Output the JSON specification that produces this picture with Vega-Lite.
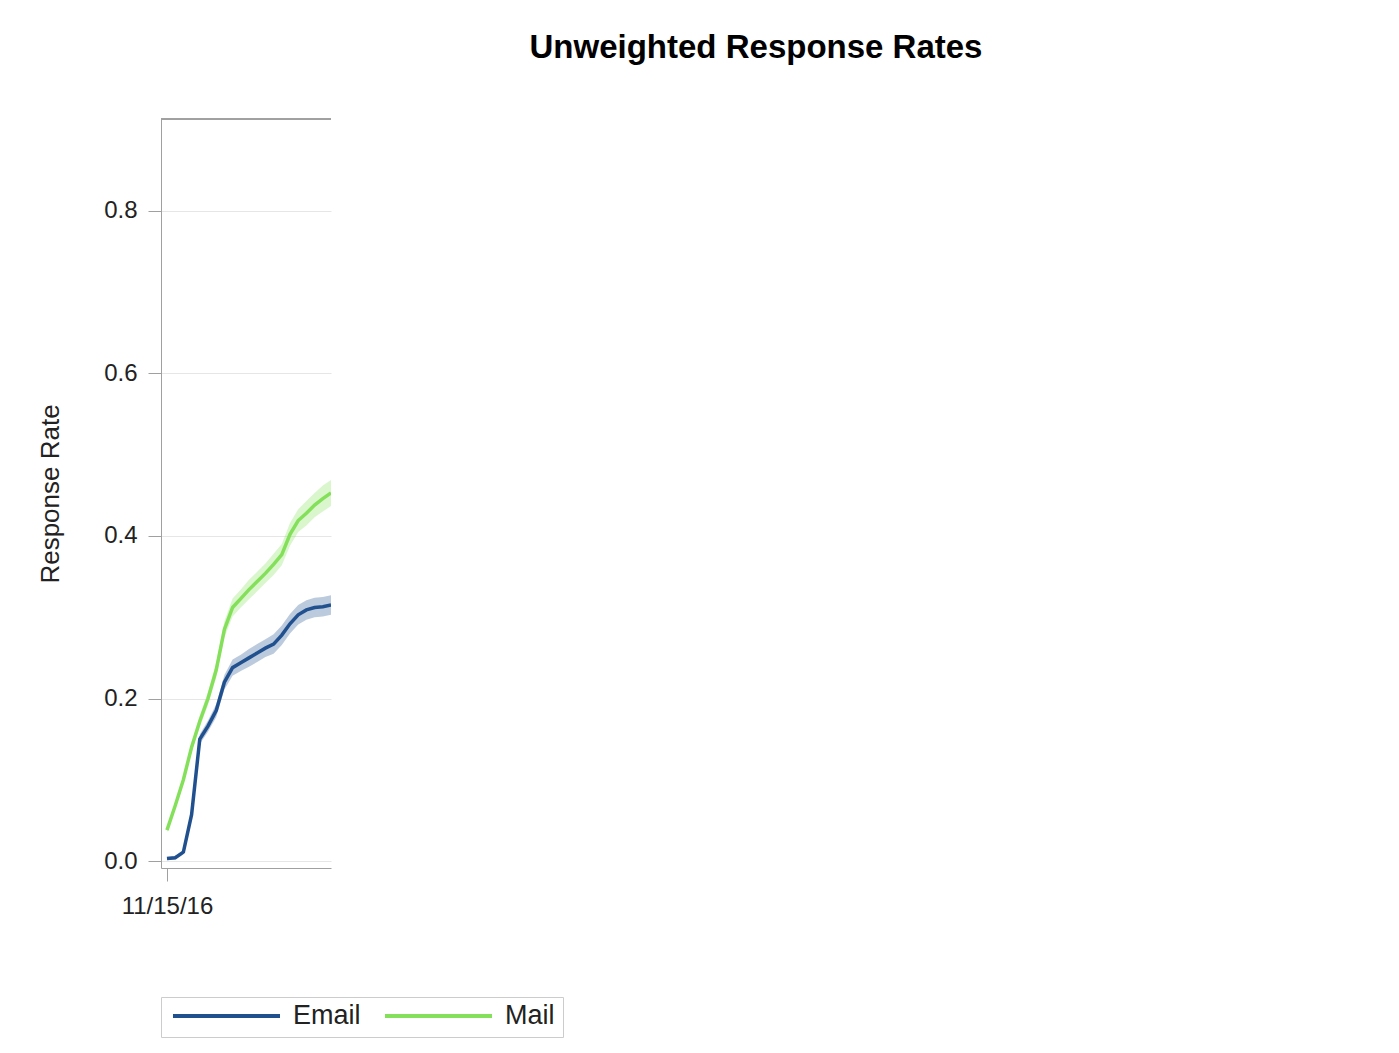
{
  "$schema": "https://vega.github.io/schema/vega-lite/v6.json",
  "autosize": {"type": "none"},
  "padding": {"left": 161, "top": 119, "right": 1068, "bottom": 185},
  "width": 170,
  "height": 749,
  "background": "white",
  "title": {
    "text": "Unweighted Response Rates",
    "frame": "group",
    "anchor": "middle",
    "dx": 510,
    "dy": 34,
    "baseline": "alphabetic",
    "offset": 62,
    "fontSize": 33,
    "fontWeight": "bold",
    "font": "Liberation Sans",
    "color": "#000000"
  },
  "config": {
    "font": "Liberation Sans",
    "view": {"stroke": null},
    "axis": {
      "domainColor": "#a0a0a0",
      "tickColor": "#a0a0a0",
      "labelColor": "#222222",
      "titleColor": "#222222",
      "labelFontSize": 24,
      "titleFontSize": 26,
      "titleFontWeight": "normal",
      "gridColor": "#e6e6e6",
      "tickSize": 13
    }
  },
  "datasets": {
    "rates": [
      {"date": "2016-11-15", "series": "Email", "rate": 0.003, "lower": 0.001, "upper": 0.005},
      {"date": "2016-11-16", "series": "Email", "rate": 0.004, "lower": 0.002, "upper": 0.006},
      {"date": "2016-11-17", "series": "Email", "rate": 0.011, "lower": 0.008, "upper": 0.014},
      {"date": "2016-11-18", "series": "Email", "rate": 0.057, "lower": 0.053, "upper": 0.061},
      {"date": "2016-11-19", "series": "Email", "rate": 0.150, "lower": 0.144, "upper": 0.156},
      {"date": "2016-11-20", "series": "Email", "rate": 0.166, "lower": 0.159, "upper": 0.173},
      {"date": "2016-11-21", "series": "Email", "rate": 0.185, "lower": 0.177, "upper": 0.193},
      {"date": "2016-11-22", "series": "Email", "rate": 0.220, "lower": 0.211, "upper": 0.229},
      {"date": "2016-11-23", "series": "Email", "rate": 0.238, "lower": 0.228, "upper": 0.248},
      {"date": "2016-11-24", "series": "Email", "rate": 0.244, "lower": 0.234, "upper": 0.254},
      {"date": "2016-11-25", "series": "Email", "rate": 0.250, "lower": 0.239, "upper": 0.261},
      {"date": "2016-11-26", "series": "Email", "rate": 0.256, "lower": 0.245, "upper": 0.267},
      {"date": "2016-11-27", "series": "Email", "rate": 0.262, "lower": 0.251, "upper": 0.273},
      {"date": "2016-11-28", "series": "Email", "rate": 0.267, "lower": 0.255, "upper": 0.279},
      {"date": "2016-11-29", "series": "Email", "rate": 0.278, "lower": 0.266, "upper": 0.290},
      {"date": "2016-11-30", "series": "Email", "rate": 0.292, "lower": 0.280, "upper": 0.304},
      {"date": "2016-12-01", "series": "Email", "rate": 0.303, "lower": 0.291, "upper": 0.315},
      {"date": "2016-12-02", "series": "Email", "rate": 0.309, "lower": 0.297, "upper": 0.321},
      {"date": "2016-12-03", "series": "Email", "rate": 0.312, "lower": 0.300, "upper": 0.324},
      {"date": "2016-12-04", "series": "Email", "rate": 0.313, "lower": 0.301, "upper": 0.325},
      {"date": "2016-12-05", "series": "Email", "rate": 0.315, "lower": 0.303, "upper": 0.327},
      {"date": "2016-11-15", "series": "Mail", "rate": 0.038, "lower": 0.035, "upper": 0.041},
      {"date": "2016-11-16", "series": "Mail", "rate": 0.068, "lower": 0.064, "upper": 0.072},
      {"date": "2016-11-17", "series": "Mail", "rate": 0.100, "lower": 0.095, "upper": 0.105},
      {"date": "2016-11-18", "series": "Mail", "rate": 0.140, "lower": 0.134, "upper": 0.146},
      {"date": "2016-11-19", "series": "Mail", "rate": 0.172, "lower": 0.165, "upper": 0.179},
      {"date": "2016-11-20", "series": "Mail", "rate": 0.200, "lower": 0.192, "upper": 0.208},
      {"date": "2016-11-21", "series": "Mail", "rate": 0.235, "lower": 0.226, "upper": 0.244},
      {"date": "2016-11-22", "series": "Mail", "rate": 0.285, "lower": 0.275, "upper": 0.295},
      {"date": "2016-11-23", "series": "Mail", "rate": 0.312, "lower": 0.301, "upper": 0.323},
      {"date": "2016-11-24", "series": "Mail", "rate": 0.323, "lower": 0.312, "upper": 0.334},
      {"date": "2016-11-25", "series": "Mail", "rate": 0.334, "lower": 0.322, "upper": 0.346},
      {"date": "2016-11-26", "series": "Mail", "rate": 0.344, "lower": 0.332, "upper": 0.356},
      {"date": "2016-11-27", "series": "Mail", "rate": 0.354, "lower": 0.342, "upper": 0.366},
      {"date": "2016-11-28", "series": "Mail", "rate": 0.365, "lower": 0.352, "upper": 0.378},
      {"date": "2016-11-29", "series": "Mail", "rate": 0.377, "lower": 0.364, "upper": 0.390},
      {"date": "2016-11-30", "series": "Mail", "rate": 0.402, "lower": 0.388, "upper": 0.416},
      {"date": "2016-12-01", "series": "Mail", "rate": 0.419, "lower": 0.405, "upper": 0.433},
      {"date": "2016-12-02", "series": "Mail", "rate": 0.428, "lower": 0.413, "upper": 0.443},
      {"date": "2016-12-03", "series": "Mail", "rate": 0.438, "lower": 0.423, "upper": 0.453},
      {"date": "2016-12-04", "series": "Mail", "rate": 0.446, "lower": 0.430, "upper": 0.462},
      {"date": "2016-12-05", "series": "Mail", "rate": 0.453, "lower": 0.437, "upper": 0.469}
    ]
  },
  "data": {"name": "rates"},
  "layer": [
    {
      "mark": {"type": "area", "opacity": 0.3, "clip": true},
      "encoding": {
        "x": {
          "field": "date",
          "type": "temporal",
          "scale": {
            "type": "utc",
            "domain": [
              {"year": 2016, "month": 11, "date": 14, "hours": 6, "minutes": 30, "utc": true},
              {"year": 2016, "month": 12, "date": 5, "utc": true}
            ]
          },
          "axis": {
            "title": null,
            "grid": false,
            "values": [{"year": 2016, "month": 11, "date": 15, "utc": true}],
            "format": "%m/%d/%y",
            "labelPadding": 13
          }
        },
        "y": {
          "field": "lower",
          "type": "quantitative",
          "scale": {"domain": [-0.0086, 0.9132], "nice": false, "zero": false},
          "axis": {
            "title": "Response Rate",
            "values": [0, 0.2, 0.4, 0.6, 0.8],
            "format": ".1f",
            "labelPadding": 11,
            "titlePadding": 40
          }
        },
        "y2": {"field": "upper"},
        "detail": {"field": "series", "type": "nominal"},
        "fill": {
          "condition": {"test": "datum.series === 'Email'", "value": "#21508f"},
          "value": "#84e05a"
        }
      }
    },
    {
      "mark": {"type": "line", "strokeWidth": 3.5, "clip": true},
      "encoding": {
        "x": {
          "field": "date",
          "type": "temporal",
          "scale": {
            "type": "utc",
            "domain": [
              {"year": 2016, "month": 11, "date": 14, "hours": 6, "minutes": 30, "utc": true},
              {"year": 2016, "month": 12, "date": 5, "utc": true}
            ]
          },
          "axis": {
            "title": null,
            "grid": false,
            "values": [{"year": 2016, "month": 11, "date": 15, "utc": true}],
            "format": "%m/%d/%y",
            "labelPadding": 13
          }
        },
        "y": {
          "field": "rate",
          "type": "quantitative",
          "scale": {"domain": [-0.0086, 0.9132], "nice": false, "zero": false},
          "axis": {
            "title": "Response Rate",
            "values": [0, 0.2, 0.4, 0.6, 0.8],
            "format": ".1f",
            "labelPadding": 11,
            "titlePadding": 40
          }
        },
        "color": {
          "field": "series",
          "type": "nominal",
          "scale": {"domain": ["Email", "Mail"], "range": ["#21508f", "#84e05a"]},
          "legend": {
            "title": null,
            "orient": "none",
            "legendX": 0,
            "legendY": 878,
            "direction": "horizontal",
            "symbolType": "stroke",
            "symbolSize": 11449,
            "symbolStrokeWidth": 4,
            "symbolOffset": 2,
            "clipHeight": 22,
            "labelFontSize": 27,
            "labelColor": "#222222",
            "labelOffset": 11,
            "columnPadding": 20,
            "strokeColor": "#cccccc",
            "fillColor": "white",
            "padding": 8
          }
        }
      }
    },
    {
      "mark": {"type": "rule", "color": "#a0a0a0", "strokeWidth": 1},
      "encoding": {"y": {"datum": 0.9132}}
    }
  ]
}
